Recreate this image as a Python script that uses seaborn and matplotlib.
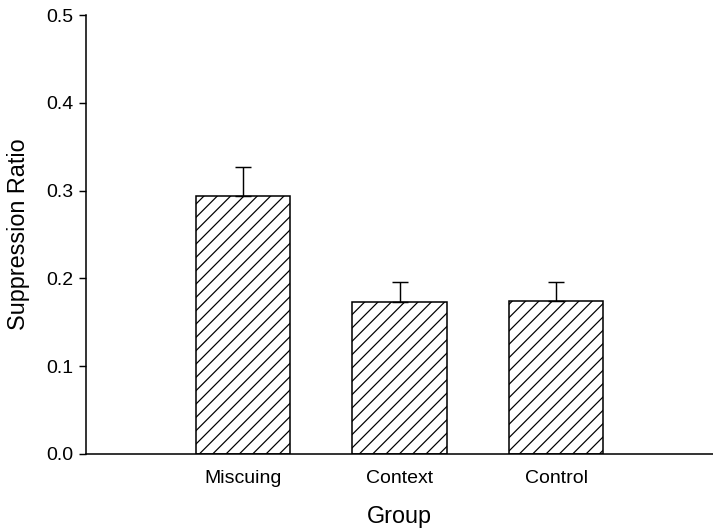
import matplotlib
matplotlib.use("Agg")
import matplotlib.pyplot as plt
import seaborn as sns
import numpy as np
import pandas as pd

groups = ["Miscuing", "Context", "Control"]
means = [0.294, 0.1735, 0.174]
sems = [0.0325, 0.022, 0.022]

sns.set_theme(style="ticks")
plt.rcParams['font.family'] = ['Liberation Sans', 'DejaVu Sans']
plt.rcParams['hatch.linewidth'] = 1.1
plt.rcParams['text.color'] = 'black'
plt.rcParams['axes.labelcolor'] = 'black'
plt.rcParams['xtick.color'] = 'black'
plt.rcParams['ytick.color'] = 'black'

DPI = 80
fig = plt.figure(figsize=(713 / DPI, 531 / DPI), dpi=DPI)
ax = fig.add_axes([86 / 713, 77 / 531, 1 - 86 / 713, (454 - 15) / 531])

df = pd.DataFrame({"Group": groups, "Ratio": means})
sns.barplot(data=df, x="Group", y="Ratio", color="white", edgecolor="black",
            linewidth=1.4, width=0.6, errorbar=None, hatch="//", ax=ax)

# one-sided (upward) error bars
ax.errorbar(np.arange(len(groups)), means, yerr=[np.zeros(len(sems)), sems],
            fmt="none", ecolor="black", elinewidth=1.3, capsize=7, capthick=1.3)

ax.set_xlim(-1, 3)
ax.set_ylim(0, 0.5)
ax.set_yticks([0.0, 0.1, 0.2, 0.3, 0.4, 0.5])
ax.set_yticklabels(["0.0", "0.1", "0.2", "0.3", "0.4", "0.5"])
ax.tick_params(axis="y", direction="out", length=6, width=1.3, labelsize=17.5,
               pad=5, colors="black")
ax.tick_params(axis="x", length=0, labelsize=17.5, pad=14, colors="black")

ax.set_xlabel("Group", fontsize=21, labelpad=17, color="black")
ax.set_ylabel("Suppression Ratio", fontsize=21, labelpad=15, color="black")

for side in ["top", "right"]:
    ax.spines[side].set_visible(False)
for side in ["left", "bottom"]:
    ax.spines[side].set_linewidth(1.4)
    ax.spines[side].set_color("black")

fig.savefig("out.png", dpi=DPI)
